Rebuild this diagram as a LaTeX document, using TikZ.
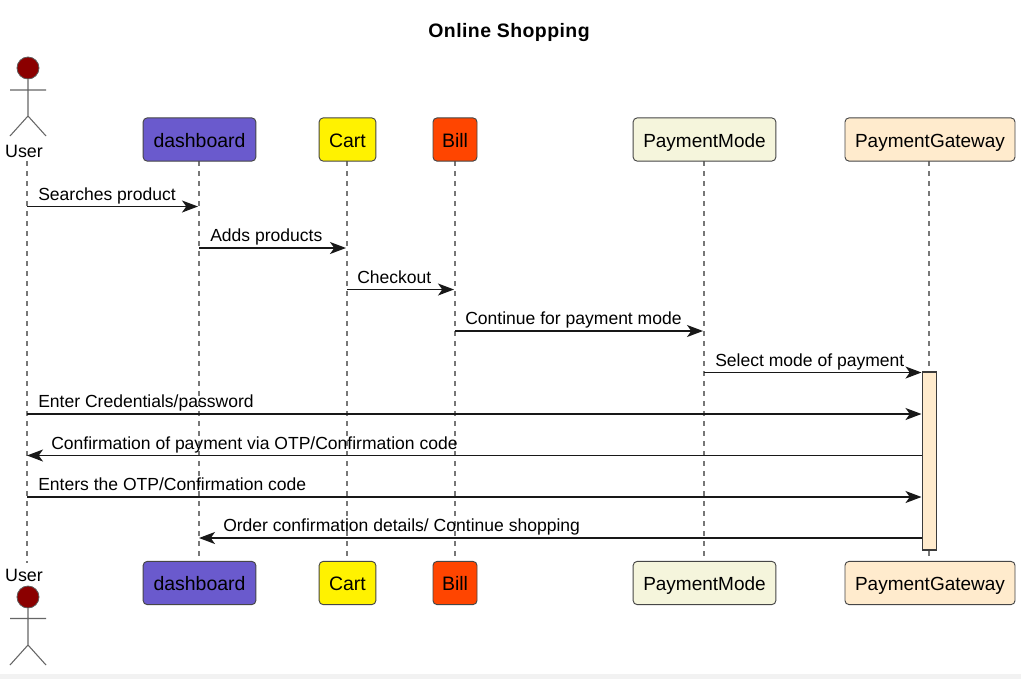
\documentclass[tikz,border=0pt]{standalone}
\usepackage{fontspec}
\setmainfont{Liberation Sans}
\usetikzlibrary{arrows.meta,calc}
\definecolor{linec}{HTML}{181818}
\definecolor{lifec}{HTML}{777777}
\definecolor{actc}{HTML}{666666}
\definecolor{headred}{HTML}{8B0000}
\definecolor{slate}{HTML}{6A5ACD}
\definecolor{orangered}{HTML}{FF4500}
\definecolor{beigec}{HTML}{F5F5DC}
\definecolor{almond}{HTML}{FFEBCD}
\tikzset{
  x=0.75pt,y=-0.75pt,
  box/.style={draw=linec!80,line width=0.7pt,rounded corners=3pt,minimum height=32.4pt,inner sep=0pt,text height=12pt,text depth=0.4pt,font=\fontsize{14.6}{16}\selectfont,text=black,anchor=center},
  narrowbox/.style={box,font=\fontsize{14.25}{16}\selectfont},
  lifeline/.style={draw=lifec,line width=0.8pt,dash pattern=on 3.75pt off 3.75pt},
  msg/.style={draw=linec,line width=1pt,-{Stealth[length=12pt,width=9pt,inset=3.2pt]}},
  msglabel/.style={anchor=base west,inner sep=0pt,font=\fontsize{13.15}{15}\selectfont,text=black},
  actorline/.style={draw=actc,line width=0.8pt},
  head/.style={circle,draw=linec!70,fill=headred,line width=0.6pt,minimum size=16.5pt,inner sep=0pt},
  actorname/.style={inner sep=0pt,font=\fontsize{13.4}{15}\selectfont,text=black},
}
\begin{document}
\begin{tikzpicture}
\useasboundingbox (0,0) rectangle (1021,679);
\fill[white] (0,0) rectangle (1021,679);
\fill[black!5] (0,673.5) rectangle (1021,679);
\node[inner sep=0pt,font=\fontsize{14.6}{16}\selectfont\bfseries\addfontfeatures{LetterSpace=2.2}] (title) at (509,32.5) {Online Shopping};

% lifelines end points
\coordinate (ut) at (27,161); \coordinate (ub) at (27,563);
\coordinate (pat) at (929,161); \coordinate (pab) at (929,561);

% lifeline coordinates
\coordinate (dt) at (199,161); \coordinate (db) at (199,561);
\coordinate (ct) at (347,161); \coordinate (cb) at (347,561);
\coordinate (bt) at (455,161); \coordinate (bb) at (455,561);
\coordinate (mt) at (704,161); \coordinate (mb) at (704,561);
\path[lifeline] (ut) -- (ub);
\path[lifeline] (dt) -- (db);
\path[lifeline] (ct) -- (cb);
\path[lifeline] (bt) -- (bb);
\path[lifeline] (mt) -- (mb);
\path[lifeline] (pat) -- (pab);

% participant boxes
\node[box,fill=slate,minimum width=84.5pt] (dT) at (199.5,139.5) {dashboard};
\node[box,fill=yellow,minimum width=42.5pt] (cT) at (347.5,139.5) {Cart};
\node[box,fill=orangered,minimum width=33pt] (bT) at (455,139.5) {Bill};
\node[narrowbox,fill=beigec,minimum width=107pt] (mT) at (704.5,139.5) {PaymentMode};
\node[narrowbox,fill=almond,minimum width=127.5pt] (gT) at (930,139.5) {PaymentGateway};
\node[box,fill=slate,minimum width=84.5pt] (dB) at (199.5,583) {dashboard};
\node[box,fill=yellow,minimum width=42.5pt] (cB) at (347.5,583) {Cart};
\node[box,fill=orangered,minimum width=33pt] (bB) at (455,583) {Bill};
\node[narrowbox,fill=beigec,minimum width=107pt] (mB) at (704.5,583) {PaymentMode};
\node[narrowbox,fill=almond,minimum width=127.5pt] (gB) at (930,583) {PaymentGateway};

% activation
\node[draw=linec!85,line width=0.95pt,fill=almond,minimum width=10.5pt,minimum height=133.5pt,inner sep=0pt] (act) at (929.7,461) {};

% actors
\node[actorname] (uTop) at (24,151.5) {User};
\node[actorname] (uBot) at (24,575) {User};
\node[head] (hT) at (28,68) {};
\node[head] (hB) at (28,597) {};
\coordinate (armTl) at (10,90); \coordinate (armTr) at (46,90);
\coordinate (hipT) at (28,116); \coordinate (legTl) at (10,136); \coordinate (legTr) at (46,136);
\coordinate (armBl) at (10,618.5); \coordinate (armBr) at (46,618.5);
\coordinate (hipB) at (28,645); \coordinate (legBl) at (10,665); \coordinate (legBr) at (46,665);
\draw[actorline] (hT) -- (hipT) (armTl) -- (armTr) (legTl) -- (hipT) -- (legTr);
\draw[actorline] (hB) -- (hipB) (armBl) -- (armBr) (legBl) -- (hipB) -- (legBr);

% messages
\coordinate (a1) at (27,206.5); \coordinate (b1) at (198,206.5);
\coordinate (a2) at (199,248); \coordinate (b2) at (346,248);
\coordinate (a3) at (347,289.5); \coordinate (b3) at (454,289.5);
\coordinate (a4) at (455,331); \coordinate (b4) at (703,331);
\coordinate (a5) at (704,372.5); \coordinate (b5) at (921.5,372.5);
\coordinate (a6) at (27,414); \coordinate (b6) at (921.5,414);
\coordinate (a7) at (922,455.5); \coordinate (b7) at (27,455.5);
\coordinate (a8) at (27,497); \coordinate (b8) at (921.5,497);
\coordinate (a9) at (922,538); \coordinate (b9) at (199,538);
\draw[msg] (a1) -- (b1);
\draw[msg] (a2) -- (b2);
\draw[msg] (a3) -- (b3);
\draw[msg] (a4) -- (b4);
\draw[msg] (a5) -- (b5);
\draw[msg] (a6) -- (b6);
\draw[msg] (a7) -- (b7);
\draw[msg] (a8) -- (b8);
\draw[msg] (a9) -- (b9);

\node[msglabel] (l1) at (38,200) {Searches product};
\node[msglabel] (l2) at (210,241.5) {Adds products};
\node[msglabel] (l3) at (357,283.5) {Checkout};
\node[msglabel] (l4) at (465,324.5) {Continue for payment mode};
\node[msglabel] (l5) at (715,366.5) {Select mode of payment};
\node[msglabel] (l6) at (38,407.5) {Enter Credentials/password};
\node[msglabel] (l7) at (51,449) {Confirmation of payment via OTP/Confirmation code};
\node[msglabel] (l8) at (38,490.5) {Enters the OTP/Confirmation code};
\node[msglabel] (l9) at (223,531.5) {Order confirmation details/ Continue shopping};
\end{tikzpicture}
\end{document}
